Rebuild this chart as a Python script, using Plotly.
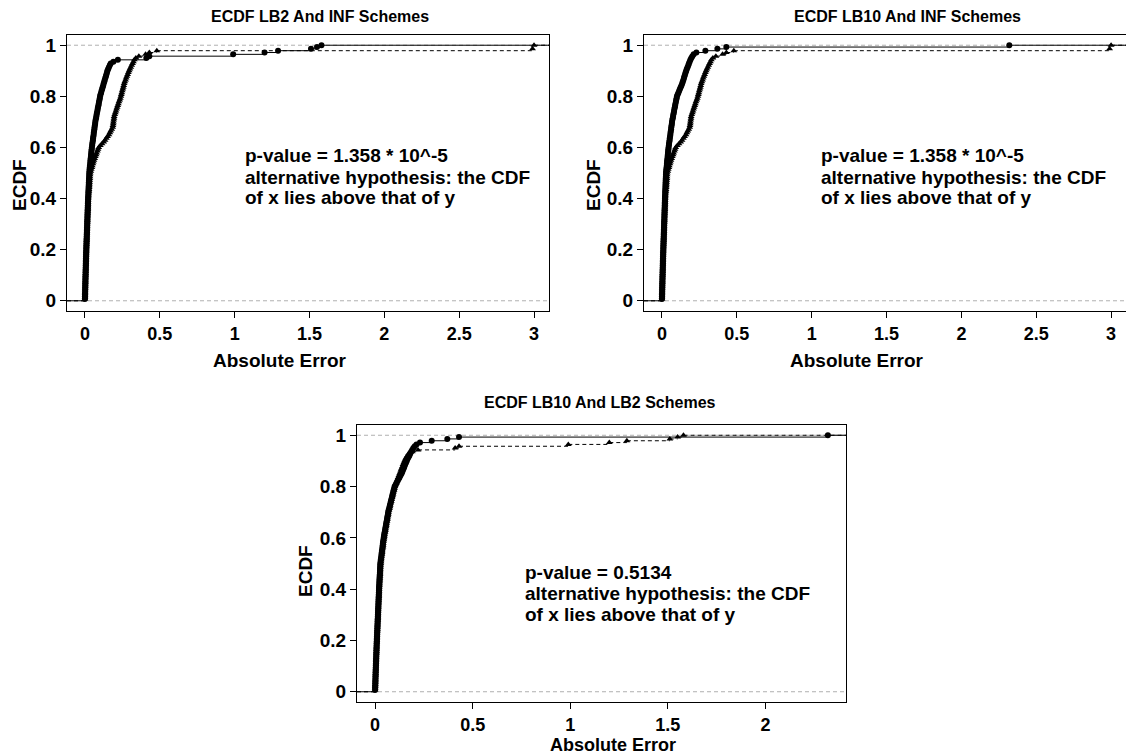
import numpy as np
import plotly.graph_objects as go

# ---------------- data (absolute errors) ----------------
lb2_err = [
    0.0000, 0.0003, 0.0006, 0.0009, 0.0012, 0.0015, 0.0018, 0.0021, 0.0024, 0.0027, 0.0030, 0.0033, 0.0036, 0.0040,
    0.0043, 0.0047, 0.0050, 0.0054, 0.0057, 0.0061, 0.0064, 0.0068, 0.0071, 0.0075, 0.0079, 0.0082, 0.0086, 0.0090,
    0.0094, 0.0098, 0.0103, 0.0107, 0.0111, 0.0115, 0.0120, 0.0124, 0.0128, 0.0133, 0.0137, 0.0141, 0.0146, 0.0150,
    0.0154, 0.0158, 0.0163, 0.0167, 0.0171, 0.0176, 0.0180, 0.0184, 0.0189, 0.0193, 0.0197, 0.0201, 0.0206, 0.0210,
    0.0216, 0.0222, 0.0227, 0.0233, 0.0239, 0.0244, 0.0250, 0.0256, 0.0261, 0.0267, 0.0273, 0.0279, 0.0284, 0.0290,
    0.030, 0.031, 0.032, 0.033, 0.035, 0.036, 0.037, 0.038, 0.040, 0.041, 0.042, 0.043, 0.045, 0.046,
    0.048, 0.049, 0.051, 0.053, 0.054, 0.056, 0.058, 0.059, 0.061, 0.063, 0.064, 0.066, 0.068, 0.069,
    0.071, 0.074, 0.076, 0.078, 0.080, 0.083, 0.085, 0.087, 0.090, 0.092, 0.094, 0.097, 0.099, 0.101,
    0.104, 0.108, 0.111, 0.115, 0.118, 0.122, 0.125,
    0.129, 0.132, 0.136, 0.140, 0.143, 0.147, 0.150,
    0.155, 0.160, 0.166, 0.172, 0.190, 0.220,
    0.41, 0.43, 0.99, 1.20, 1.29, 1.51, 1.55, 1.58,
]

lb10_err = [
    0.0000, 0.0003, 0.0006, 0.0009, 0.0012, 0.0015, 0.0018, 0.0021, 0.0024, 0.0027, 0.0030, 0.0033, 0.0036, 0.0040,
    0.0043, 0.0047, 0.0050, 0.0054, 0.0057, 0.0061, 0.0064, 0.0068, 0.0071, 0.0075, 0.0079, 0.0082, 0.0086, 0.0090,
    0.0094, 0.0098, 0.0102, 0.0106, 0.0110, 0.0114, 0.0118, 0.0122, 0.0126, 0.0130, 0.0134, 0.0138, 0.0142, 0.0146,
    0.0150, 0.0154, 0.0158, 0.0162, 0.0166, 0.0170, 0.0174, 0.0178, 0.0182, 0.0186, 0.0190, 0.0193, 0.0197, 0.0200,
    0.0205, 0.0210, 0.0215, 0.0220, 0.0225, 0.0230, 0.0235, 0.0240, 0.0245, 0.0250, 0.0255, 0.0260, 0.0265, 0.0270,
    0.028, 0.029, 0.031, 0.032, 0.033, 0.034, 0.035, 0.037, 0.038, 0.039, 0.040, 0.041, 0.043, 0.044,
    0.046, 0.047, 0.049, 0.051, 0.052, 0.054, 0.056, 0.057, 0.059, 0.061, 0.062, 0.064, 0.066, 0.067,
    0.069, 0.072, 0.074, 0.076, 0.079, 0.081, 0.083, 0.086, 0.088, 0.090, 0.093, 0.095, 0.098, 0.100,
    0.105, 0.110, 0.115, 0.120, 0.125, 0.130, 0.135,
    0.139, 0.143, 0.147, 0.150, 0.154, 0.158, 0.162,
    0.166, 0.171, 0.176, 0.180, 0.185, 0.190,
    0.196, 0.203, 0.212, 0.230,
    0.29, 0.37, 0.43, 2.32,
]

inf_err = [
    0.0000, 0.0003, 0.0006, 0.0009, 0.0012, 0.0015, 0.0018, 0.0021, 0.0024, 0.0027, 0.0030, 0.0033, 0.0036, 0.0040,
    0.0043, 0.0047, 0.0050, 0.0054, 0.0057, 0.0061, 0.0064, 0.0068, 0.0071, 0.0075, 0.0079, 0.0082, 0.0086, 0.0090,
    0.0095, 0.0099, 0.0104, 0.0109, 0.0113, 0.0118, 0.0123, 0.0127, 0.0132, 0.0137, 0.0141, 0.0146, 0.0151, 0.0155,
    0.0160, 0.0165, 0.0169, 0.0174, 0.0179, 0.0183, 0.0188, 0.0193, 0.0197, 0.0202, 0.0207, 0.0211, 0.0216, 0.0220,
    0.0230, 0.0240, 0.0250, 0.0260, 0.0270, 0.0280, 0.0290, 0.0300, 0.0310, 0.0318, 0.0326, 0.0334, 0.0342, 0.0350,
    0.039, 0.042, 0.046, 0.049, 0.053, 0.056, 0.060,
    0.065, 0.069, 0.074, 0.078, 0.083, 0.087, 0.092,
    0.103, 0.114, 0.125,
    0.134, 0.143, 0.151, 0.160,
    0.166, 0.172, 0.179, 0.185,
    0.187, 0.189, 0.190, 0.192, 0.194, 0.195,
    0.199, 0.203, 0.207, 0.211, 0.215,
    0.219, 0.223, 0.227, 0.232, 0.236, 0.240,
    0.243, 0.246, 0.249, 0.253, 0.256, 0.259, 0.262,
    0.266, 0.271, 0.275, 0.280,
    0.285, 0.290, 0.295, 0.300,
    0.306, 0.312, 0.318, 0.324,
    0.330, 0.340,
    0.36, 0.405, 0.43, 0.48, 2.99, 3.00, 3.00,
]

samples = {"LB2": lb2_err, "LB10": lb10_err, "INF": inf_err}
panel_pairs = [("LB2", "INF"), ("LB10", "INF"), ("LB10", "LB2")]
panel_titles = ["ECDF LB2 And INF Schemes", "ECDF LB10 And INF Schemes", "ECDF LB10 And LB2 Schemes"]
p_values = ["1.358 * 10^-5", "1.358 * 10^-5", "0.5134"]
x_tick_vals = [[0, 0.5, 1, 1.5, 2, 2.5, 3], [0, 0.5, 1, 1.5, 2, 2.5, 3], [0, 0.5, 1, 1.5, 2]]
x_tick_text = [["0", "0.5", "1", "1.5", "2", "2.5", "3"], ["0", "0.5", "1", "1.5", "2", "2.5", "3"],
               ["0", "0.5", "1", "1.5", "2"]]
y_tick_vals = [0, 0.2, 0.4, 0.6, 0.8, 1]
y_tick_text = ["0", "0.2", "0.4", "0.6", "0.8", "1"]
x_label = "Absolute Error"
y_label = "ECDF"

# ---------------- layout geometry (pixels) ----------------
W, H = 1126, 756
FONT = "Liberation Sans, Arial, sans-serif"
panels = [
    dict(x0=67, x1=549, y0=35, y1=311, xr=[-0.12, 3.10],
         title=(320, 17), xlab=(280, 360, 19), ylab=(20, 185), txt=(243, [156, 177, 198])),
    dict(x0=644, x1=1126, y0=35, y1=311, xr=[-0.12, 3.0995],
         title=(907, 17), xlab=(857, 360, 19), ylab=(594, 185), txt=(819, [156, 177, 198])),
    dict(x0=357, x1=846, y0=425, y1=702, xr=[-0.0928, 2.4128],
         title=(600, 402), xlab=(613, 745, 18), ylab=(305, 571), txt=(523, [572, 593, 614])),
]
yr = [-0.04, 1.04]


def ecdf(vals):
    v = np.sort(np.asarray(vals, dtype=float))
    ux, counts = np.unique(v, return_counts=True)
    return ux, np.cumsum(counts) / len(v)


def step_segments(ux, y, xlo, xhi):
    xs, ys = [xlo, ux[0], None], [0, 0, None]
    for j in range(len(ux)):
        xe = ux[j + 1] if j + 1 < len(ux) else xhi
        xs += [ux[j], xe, None]
        ys += [y[j], y[j], None]
    return xs, ys


fig = go.Figure()
annotations = []
shapes = []

for k, (pair, pan) in enumerate(zip(panel_pairs, panels)):
    ax = "" if k == 0 else str(k + 1)
    xa, ya = "x" + ax, "y" + ax
    for s, name in enumerate(pair):
        ux, y = ecdf(samples[name])
        xs, ys = step_segments(ux, y, pan["xr"][0], pan["xr"][1])
        fig.add_trace(go.Scatter(
            x=xs, y=ys, mode="lines", xaxis=xa, yaxis=ya, showlegend=False,
            line=dict(color="black", width=1, dash="solid" if s == 0 else "4px,3px"),
            hoverinfo="skip"))
        fig.add_trace(go.Scatter(
            x=ux, y=y, mode="markers", xaxis=xa, yaxis=ya, showlegend=False, name=name,
            marker=dict(symbol="circle" if s == 0 else "triangle-up", size=6,
                        color="black", line=dict(width=0))))

    dom_x = [pan["x0"] / W, pan["x1"] / W]
    dom_y = [1 - pan["y1"] / H, 1 - pan["y0"] / H]
    common = dict(showline=True, mirror=True, linecolor="black", linewidth=1,
                  ticks="outside", ticklen=6, tickwidth=1, tickcolor="black",
                  showgrid=False, zeroline=False)
    fig.update_layout(**{
        "xaxis" + ax: dict(domain=dom_x, range=pan["xr"], anchor=ya,
                           tickvals=x_tick_vals[k], ticktext=x_tick_text[k],
                           tickfont=dict(family=FONT, size=18, color="black", weight="bold"), **common),
        "yaxis" + ax: dict(domain=dom_y, range=yr, anchor=xa,
                           tickvals=y_tick_vals, ticktext=y_tick_text,
                           tickfont=dict(family=FONT, size=19, color="black", weight="bold"), **common),
    })

    # dashed grey reference lines at 0 and 1
    for yv in (0, 1):
        shapes.append(dict(type="line", xref=xa + " domain", yref=ya, x0=0, x1=1, y0=yv, y1=yv,
                           line=dict(color="#b0b0b0", width=1, dash="4px,3px"), layer="below"))

    # titles and axis labels
    tx, ty = pan["title"]
    annotations.append(dict(text=panel_titles[k], x=tx / W, y=1 - ty / H, xref="paper", yref="paper",
                            showarrow=False, xanchor="center", yanchor="middle",
                            font=dict(family=FONT, size=16, color="black", weight="bold")))
    lx, ly, ls = pan["xlab"]
    annotations.append(dict(text=x_label, x=lx / W, y=1 - ly / H, xref="paper", yref="paper",
                            showarrow=False, xanchor="center", yanchor="middle",
                            font=dict(family=FONT, size=ls, color="black", weight="bold")))
    vx, vy = pan["ylab"]
    annotations.append(dict(text=y_label, x=vx / W, y=1 - vy / H, xref="paper", yref="paper",
                            showarrow=False, xanchor="center", yanchor="middle", textangle=-90,
                            font=dict(family=FONT, size=19, color="black", weight="bold")))
    px, pys = pan["txt"]
    lines = ["p-value = " + p_values[k], "alternative hypothesis: the CDF", "of x lies above that of y"]
    for line, py in zip(lines, pys):
        annotations.append(dict(text=line, x=px / W, y=1 - py / H, xref="paper", yref="paper",
                                showarrow=False, xanchor="left", yanchor="middle",
                                font=dict(family=FONT, size=19, color="black", weight="bold")))

fig.update_layout(width=W, height=H, margin=dict(l=0, r=0, t=0, b=0), autosize=False,
                  paper_bgcolor="white", plot_bgcolor="white",
                  annotations=annotations, shapes=shapes, showlegend=False)

fig.write_html("out.html")
